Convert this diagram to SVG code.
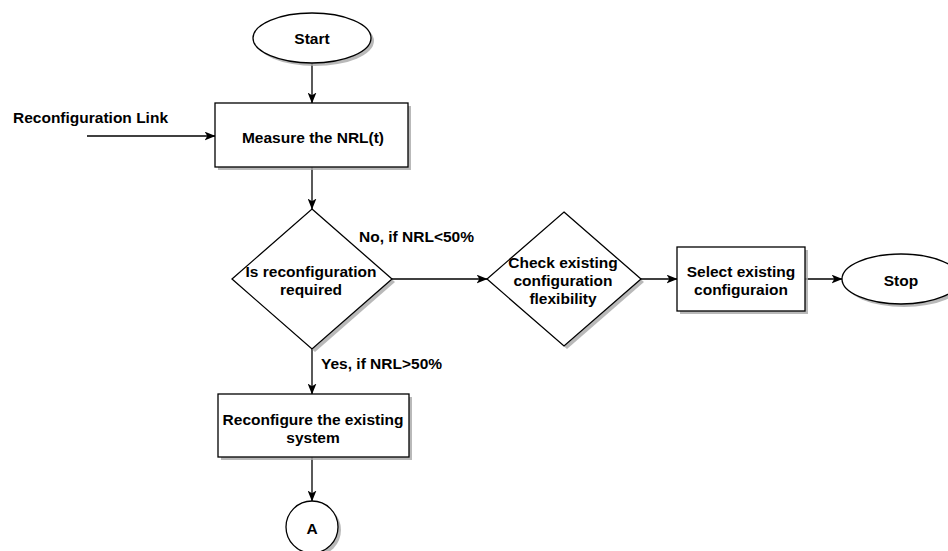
<svg xmlns="http://www.w3.org/2000/svg" width="948" height="551" viewBox="0 0 948 551">
  <style>
    .shape { fill: #ffffff; stroke: #000000; stroke-width: 1.3; }
    .shadow { fill: #a8a8a8; stroke: none; opacity: 0.8; }
    .label { font-family: "Liberation Sans", Arial, sans-serif; font-size: 15.5px; font-weight: bold; fill: #000000; text-anchor: middle; dominant-baseline: central; }
    .edge-label { font-family: "Liberation Sans", Arial, sans-serif; font-size: 15.5px; font-weight: bold; fill: #000000; dominant-baseline: central; }
    .edge { fill: none; stroke: #000000; stroke-width: 1.3; marker-end: url(#arrow); }
  </style>
  <defs>
    <marker id="arrow" viewBox="0 0 10 8" refX="9.5" refY="4" markerWidth="11" markerHeight="9" markerUnits="userSpaceOnUse" orient="auto">
      <path d="M0,0 L10,4 L0,8 L2.5,4 z" fill="#000000"/>
    </marker>
  </defs>

  <rect width="948" height="551" fill="#ffffff"/>

  <!-- connectors -->
  <g id="connectors">
    <line class="edge" x1="312" y1="63" x2="312" y2="103"/>
    <line class="edge" x1="87" y1="136" x2="215" y2="136"/>
    <line class="edge" x1="312" y1="167" x2="312" y2="209"/>
    <line class="edge" x1="392" y1="279" x2="487" y2="279"/>
    <line class="edge" x1="641" y1="279" x2="677" y2="279"/>
    <line class="edge" x1="805" y1="279" x2="842" y2="279"/>
    <line class="edge" x1="312" y1="349" x2="312" y2="394"/>
    <line class="edge" x1="312" y1="457" x2="312" y2="501"/>
    <text class="edge-label" x="13" y="117">Reconfiguration Link</text>
    <text class="edge-label" x="359" y="236">No, if NRL&lt;50%</text>
    <text class="edge-label" x="321" y="363">Yes, if NRL&gt;50%</text>
  </g>

  <!-- start terminal -->
  <g id="start">
    <ellipse class="shadow" cx="315" cy="41" rx="59" ry="25"/>
    <ellipse class="shape" cx="312" cy="38" rx="59" ry="25"/>
    <text class="label" x="312" y="38">Start</text>
  </g>

  <!-- measure step -->
  <g id="measure">
    <rect class="shadow" x="218" y="106" width="193" height="64"/>
    <rect class="shape" x="215" y="103" width="193" height="64"/>
    <text class="label" x="313" y="137">Measure the NRL(t)</text>
  </g>

  <!-- decision: reconfiguration required -->
  <g id="decision-required">
    <polygon class="shadow" points="315,212 395,282 315,352 235,282"/>
    <polygon class="shape" points="312,209 392,279 312,349 232,279"/>
    <text class="label" x="311" y="271">Is reconfiguration</text>
    <text class="label" x="311" y="289">required</text>
  </g>

  <!-- decision: check flexibility -->
  <g id="decision-flexibility">
    <polygon class="shadow" points="567,215 644,282 567,349 490,282"/>
    <polygon class="shape" points="564,212 641,279 564,346 487,279"/>
    <text class="label" x="563" y="262">Check existing</text>
    <text class="label" x="563" y="280">configuration</text>
    <text class="label" x="563" y="298">flexibility</text>
  </g>

  <!-- select existing configuration -->
  <g id="select">
    <rect class="shadow" x="680" y="250" width="128" height="64"/>
    <rect class="shape" x="677" y="247" width="128" height="64"/>
    <text class="label" x="741" y="271">Select existing</text>
    <text class="label" x="741" y="289">configuraion</text>
  </g>

  <!-- stop terminal -->
  <g id="stop">
    <ellipse class="shadow" cx="904" cy="282" rx="59" ry="25"/>
    <ellipse class="shape" cx="901" cy="279" rx="59" ry="25"/>
    <text class="label" x="901" y="280">Stop</text>
  </g>

  <!-- reconfigure step -->
  <g id="reconfigure">
    <rect class="shadow" x="221" y="397" width="191" height="63"/>
    <rect class="shape" x="218" y="394" width="191" height="63"/>
    <text class="label" x="313" y="419">Reconfigure the existing</text>
    <text class="label" x="313" y="437">system</text>
  </g>

  <!-- off-page connector A -->
  <g id="connector-a">
    <circle class="shadow" cx="315" cy="530" r="26"/>
    <circle class="shape" cx="312" cy="527" r="26"/>
    <text class="label" x="312" y="528">A</text>
  </g>
</svg>
